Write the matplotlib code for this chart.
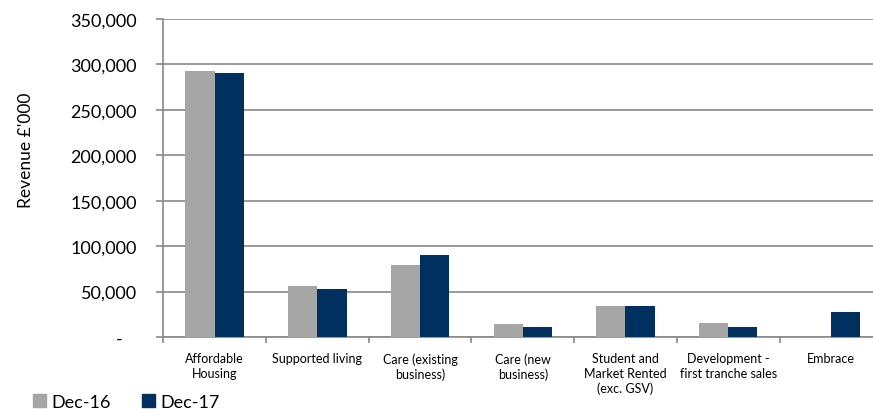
import numpy as np
import matplotlib
matplotlib.use('Agg')
import matplotlib.pyplot as plt
from matplotlib.ticker import FuncFormatter
from matplotlib.patches import Patch

# data (Revenue £'000)
categories = [
    "Affordable\nHousing",
    "Supported living",
    "Care (existing\nbusiness)",
    "Care (new\nbusiness)",
    "Student and\nMarket Rented\n(exc. GSV)",
    "Development -\nfirst tranche sales",
    "Embrace",
]
dec16 = [292500, 55800, 79600, 14300, 34400, 15100, 0]
dec17 = [290500, 52800, 89900, 10700, 34400, 10700, 27200]
series_names = ["Dec-16", "Dec-17"]
y_ticks = [0, 50000, 100000, 150000, 200000, 250000, 300000, 350000]

GREY = "#A6A6A6"
NAVY = "#00305E"
LINE = "#898989"

plt.rcParams['font.family'] = ['Lato', 'DejaVu Sans']

fig = plt.figure(figsize=(8.73, 4.10), dpi=100)
# plot area runs slightly past the right edge, as in the reference
ax = fig.add_axes([0.1871, 0.1756, 0.8235, 0.7756])

x = np.arange(len(categories))
bw = 0.285
ax.bar(x - bw / 2, dec16, width=bw, color=GREY, zorder=3)
ax.bar(x + bw / 2, dec17, width=bw, color=NAVY, zorder=3)

ax.set_xlim(-0.5, len(categories) - 0.5)
ax.set_ylim(0, 350000)

# y axis
ax.set_yticks(y_ticks)
ax.yaxis.set_major_formatter(FuncFormatter(lambda v, p: f"{v:,.0f}" if v else "-   "))
ax.tick_params(axis='y', length=5, width=1.2, color=LINE, pad=14, labelsize=13,
               labelcolor="#000000")
ax.grid(axis='y', color=LINE, linewidth=1.2, zorder=0)
ax.set_ylabel("Revenue £'000", fontsize=12.5)
ax.yaxis.set_label_coords(-0.180, 0.589)

# x axis: labels at centres, tick marks at category boundaries
ax.set_xticks(x)
ax.set_xticklabels(categories, fontsize=9, linespacing=1.25)
ax.tick_params(axis='x', length=0, pad=11)
ax.set_xticks(np.arange(-0.5, len(categories)), minor=True)
ax.tick_params(axis='x', which='minor', length=4, width=1.2, color=LINE)

for s in ["top", "right"]:
    ax.spines[s].set_visible(False)
for s in ["left", "bottom"]:
    ax.spines[s].set_color(LINE)
    ax.spines[s].set_linewidth(1.2)

handles = [Patch(color=GREY), Patch(color=NAVY)]
fig.legend(handles, series_names, loc='center left', bbox_to_anchor=(0.038, 0.017),
           frameon=False, fontsize=13, ncol=2, handlelength=0.7, handleheight=0.7,
           handletextpad=0.3, columnspacing=1.75, borderpad=0, borderaxespad=0)

fig.savefig("out.png", dpi=100)
